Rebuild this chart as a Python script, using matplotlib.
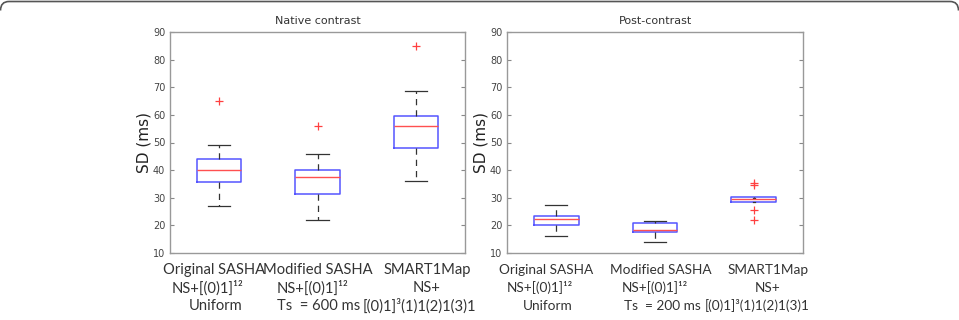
import matplotlib
matplotlib.use("Agg")
import matplotlib.pyplot as plt
from matplotlib.path import Path
from matplotlib.patches import PathPatch

# box statistics (SD in ms)
methods = ["Original SASHA", "Modified SASHA", "SMART1Map"]

native_whislo = [27, 22, 36]
native_q1 = [35.8, 31.5, 48]
native_med = [40, 37.5, 56]
native_q3 = [44, 40, 59.5]
native_whishi = [49, 46, 68.5]
native_fliers = [[65], [56], [85]]

post_whislo = [16, 14, 28.5]
post_q1 = [20.3, 17.5, 28.5]
post_med = [22.2, 18.5, 29.7]
post_q3 = [23.5, 21, 30.3]
post_whishi = [27.5, 21.5, 30]
post_fliers = [[], [], [35.5, 34.5, 25.5, 22]]

native_labels = [
    ["Original SASHA", "NS+[(0)1]¹²", "Uniform"],
    ["Modified SASHA", "NS+[(0)1]¹²", "Ts  = 600 ms"],
    ["SMART1Map", "NS+", "[(0)1]³(1)1(2)1(3)1"],
]
post_labels = [
    ["Original SASHA", "NS+[(0)1]¹²", "Uniform"],
    ["Modified SASHA", "NS+[(0)1]¹²", "Ts  = 200 ms"],
    ["SMART1Map", "NS+", "[(0)1]³(1)1(2)1(3)1"],
]


def make_stats(lo, q1, med, q3, hi, fl):
    return [dict(whislo=a, q1=b, med=c, q3=d, whishi=e, fliers=f)
            for a, b, c, d, e, f in zip(lo, q1, med, q3, hi, fl)]


W, H = 959, 320
fig = plt.figure(figsize=(W / 100, H / 100), dpi=100)

# rounded frame line along the top edge only
top = H - 1.5
verts = [(0.5, top - 9), (0.5, top), (9, top), (W - 9, top),
         (W - 0.5, top), (W - 0.5, top - 9)]
codes = [Path.MOVETO, Path.CURVE3, Path.CURVE3, Path.LINETO,
         Path.CURVE3, Path.CURVE3]
frame = PathPatch(Path([(x / W, y / H) for x, y in verts], codes),
                  transform=fig.transFigure, fill=False,
                  ec="#555555", lw=1.2)
fig.patches.append(frame)

ax1 = fig.add_axes([170 / W, 67 / H, 295 / W, 221 / H])
ax2 = fig.add_axes([507 / W, 67 / H, 296 / W, 221 / H])

# label column centres (pixels) and font sizes for each panel
panels = [
    (ax1, make_stats(native_whislo, native_q1, native_med, native_q3,
                     native_whishi, native_fliers), "Native contrast",
     native_labels, [[214, 208, 216], [318, 313, 319], [427, 427, 419]], 10.6),
    (ax2, make_stats(post_whislo, post_q1, post_med, post_q3,
                     post_whishi, post_fliers), "Post-contrast",
     post_labels, [[546, 540, 548], [661, 655, 662], [768, 768, 757]], 9.8),
]

for ax, stats, title, labels, xs, fs in panels:
    ax.bxp(stats, positions=[1, 2, 3], widths=0.45,
           capwidths=[0.225, 0.225, 0.225 if ax is ax1 else 0.02],
           boxprops=dict(color="#5555ff", lw=1.1),
           medianprops=dict(color="#ff5050", lw=1.0),
           whiskerprops=dict(color="#333333", lw=0.9, ls=(0, (5, 4))),
           capprops=dict(color="#333333", lw=0.9),
           flierprops=dict(marker="+", markeredgecolor="#ff4040",
                           markersize=6, markeredgewidth=0.9, ls="none"))
    ax.set_xlim(0.5, 3.5)
    ax.set_ylim(10, 90)
    ax.set_yticks(range(10, 91, 10))
    ax.set_xticks([])
    ax.tick_params(axis="y", direction="in", length=3, labelsize=7,
                   labelcolor="#444444", color="#888888", right=True)
    for sp in ax.spines.values():
        sp.set_color("#999999")
        sp.set_linewidth(1.0)
    ax.set_title(title, fontsize=8, color="#333333", pad=6)
    ax.set_ylabel("SD (ms)", fontsize=11, color="#222222", labelpad=1)

    for i, lines in enumerate(labels):
        for j, txt in enumerate(lines):
            fig.text(xs[i][j] / W, (H - 270 - j * 18) / H, txt,
                     ha="center", va="center", fontsize=fs,
                     family=["Lato", "DejaVu Sans"], color="#333333")

fig.savefig("out.png", dpi=100)
